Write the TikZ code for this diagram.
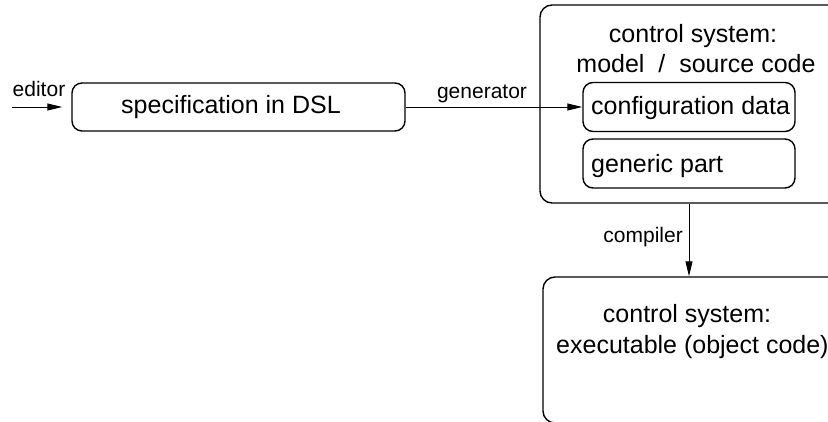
\documentclass[tikz,border=0pt]{standalone}
\usepackage{fontspec}
\setmainfont{Liberation Sans}
\usetikzlibrary{arrows.meta}
\begin{document}
\begin{tikzpicture}[x=1pt,y=-1pt,
  box/.style={draw, line width=1.4pt, rounded corners=10pt, inner sep=0pt},
  bigbox/.style={draw, line width=1.4pt, rounded corners=12pt, inner sep=0pt},
  txt/.style={inner sep=0pt, anchor=base, font=\fontsize{25}{30}\selectfont},
  lbl/.style={inner sep=0pt, anchor=base, font=\fontsize{21}{25}\selectfont},
  arr/.style={line width=1pt, -{Triangle[length=15pt,width=7pt]}}]
\useasboundingbox (0,0) rectangle (828,421);
\clip (0,0) rectangle (828,421);

% specification box
\node[box, minimum width=333pt, minimum height=48pt] (spec) at (238.5,107) {};
\node[txt] (spectxt) at (231,113) {specification in DSL};

% control system (source) box, running off the right edge
\node[bigbox, minimum width=330pt, minimum height=198pt] (ctrl) at (705,104) {};
\node[txt] (ctrl1) at (693,42) {control system:};
\node[txt] (ctrl2) at (696,72) {model\hspace{7pt} /\hspace{7pt} source code};

% inner parts
\node[box, minimum width=212pt, minimum height=49pt] (conf) at (689,107) {};
\node[txt, anchor=base west] (conftxt) at (591,114) {configuration data};
\node[box, minimum width=212pt, minimum height=49pt] (gen) at (689,163.5) {};
\node[txt, anchor=base west] (gentxt) at (591,172) {generic part};

% executable box, running off the right edge
\node[bigbox, minimum width=330pt, minimum height=146pt] (exe) at (708,350) {};
\node[txt] (exe1) at (687,322) {control system:};
\node[txt, anchor=base west] (exe2) at (556,353) {executable (object code)};

% connectors
\coordinate (edin) at (12,107);
\draw[arr, shorten >=9pt] (edin) -- (spec.west);
\node[lbl] (edlbl) at (39,96) {editor};

\draw[arr] (spec.east) -- (conf.west);
\node[lbl] (genlbl) at (482,98) {generator};

\coordinate (cx) at (689,0);
\draw[arr] (ctrl.south -| cx) -- (exe.north -| cx);
\node[lbl, anchor=base east] (complbl) at (683,242) {compiler};
\end{tikzpicture}
\end{document}
